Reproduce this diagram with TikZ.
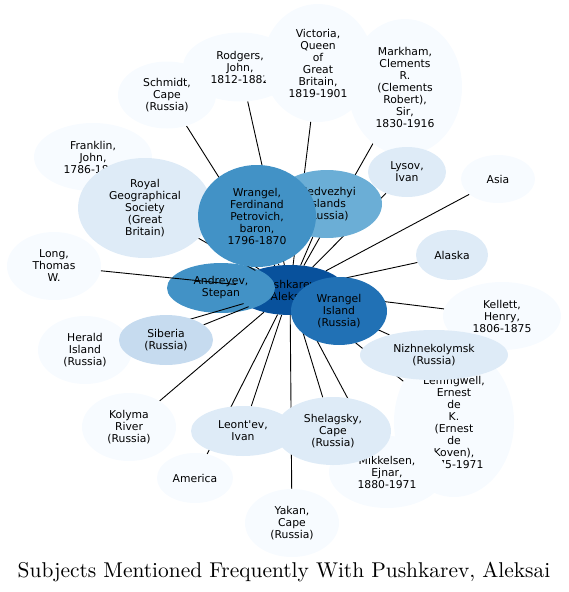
\documentclass[tikz,border=0pt]{standalone}
\usepackage{fontspec}
\newfontfamily\nodefont{DejaVu Sans}
\newfontfamily\titlefont{lmroman10-regular}[Extension=.otf]
\usetikzlibrary{shapes.geometric}
\definecolor{bA}{HTML}{F7FBFF}
\definecolor{bB}{HTML}{DEEBF7}
\definecolor{bC}{HTML}{C6DBEF}
\definecolor{bE}{HTML}{6BAED6}
\definecolor{bF}{HTML}{4292C6}
\definecolor{bG}{HTML}{2171B5}
\definecolor{bH}{HTML}{08519C}
\pgfdeclarelayer{bg}
\pgfdeclarelayer{edges}
\pgfsetlayers{bg,edges,main}
\tikzset{
  nd/.style 2 args={ellipse, draw=none, minimum width=#1pt, minimum height=#2pt,
    inner sep=0pt, align=center, text=black,
    font=\nodefont\fontsize{10.8}{12}\selectfont},
  edge/.style={draw=black, line width=0.9pt}
}
\begin{document}
\begin{tikzpicture}[x=1pt,y=-1pt]
\useasboundingbox (0,0) rectangle (568,592);
\begin{pgfonlayer}{bg}
\node[nd={110}{50}, fill=bH] (ctr) at (290,290) {Pushkarev,\\Aleksai};
\node[nd={108}{50}, fill=bF] (andr) at (221,288) {Andreyev,\\Stepan};
\end{pgfonlayer}
\node[nd={118}{68}, fill=bA] (frank) at (93,157) {Franklin,\\John,\\1786-1847};
\node[nd={134}{100}, fill=bB] (royal) at (145,208) {Royal\\Geographical\\Society\\(Great\\Britain)};
\node[nd={98}{67}, fill=bA] (schm) at (167,95) {Schmidt,\\Cape\\(Russia)};
\node[nd={114}{69}, fill=bA] (rodg) at (240,67) {Rodgers,\\John,\\1812-1882};
\node[nd={110}{118}, fill=bA] (vict) at (318,63) {Victoria,\\Queen\\of\\Great\\Britain,\\1819-1901};
\node[nd={114}{136}, fill=bA] (mark) at (405,87) {Markham,\\Clements\\R.\\(Clements\\Robert),\\Sir,\\1830-1916};
\node[nd={110}{68}, fill=bE] (medv) at (327,204) {Medvezhyi\\Islands\\(Russia)};
\node[nd={118}{102}, fill=bF] (wfp) at (257,216) {Wrangel,\\Ferdinand\\Petrovich,\\baron,\\1796-1870};
\node[nd={78}{50}, fill=bB] (lysov) at (407,172) {Lysov,\\Ivan};
\node[nd={74}{48}, fill=bA] (asia) at (498,179) {Asia};
\node[nd={94}{68}, fill=bA] (long) at (54,266) {Long,\\Thomas\\W.};
\node[nd={72}{50}, fill=bB] (alaska) at (452,255) {Alaska};
\node[nd={118}{68}, fill=bA] (kell) at (502,316) {Kellett,\\Henry,\\1806-1875};
\node[nd={94}{68}, fill=bA] (herald) at (85,350) {Herald\\Island\\(Russia)};
\node[nd={94}{50}, fill=bC] (sib) at (166,340) {Siberia\\(Russia)};
\node[nd={120}{150}, fill=bA] (leff) at (454,422) {Leffingwell,\\Ernest\\de\\K.\\(Ernest\\de\\Koven),\\1875-1971};
\node[nd={148}{50}, fill=bB] (nizh) at (434,355) {Nizhnekolymsk\\(Russia)};
\node[nd={116}{72}, fill=bA] (mikk) at (387,472) {Mikkelsen,\\Ejnar,\\1880-1971};
\node[nd={104}{50}, fill=bB] (leon) at (243,431) {Leont'ev,\\Ivan};
\node[nd={116}{68}, fill=bB] (shel) at (333,431) {Shelagsky,\\Cape\\(Russia)};
\node[nd={94}{68}, fill=bA] (kol) at (129,427) {Kolyma\\River\\(Russia)};
\node[nd={76}{50}, fill=bA] (amer) at (195,478) {America};
\node[nd={94}{68}, fill=bA] (yakan) at (292,523) {Yakan,\\Cape\\(Russia)};
\node[nd={96}{68}, fill=bG] (wisl) at (339,311) {Wrangel\\Island\\(Russia)};
\begin{pgfonlayer}{edges}
\foreach \n in {frank,royal,schm,rodg,vict,mark,medv,wfp,lysov,asia,long,alaska,kell,herald,sib,leff,nizh,mikk,leon,shel,kol,amer,yakan}
  \draw[edge] (ctr) -- (\n);
\end{pgfonlayer}
\node[font=\titlefont\fontsize{21.4}{26}\selectfont, anchor=base, inner sep=0pt] (title) at (284,577) {Subjects Mentioned Frequently With Pushkarev, Aleksai};
\end{tikzpicture}
\end{document}
